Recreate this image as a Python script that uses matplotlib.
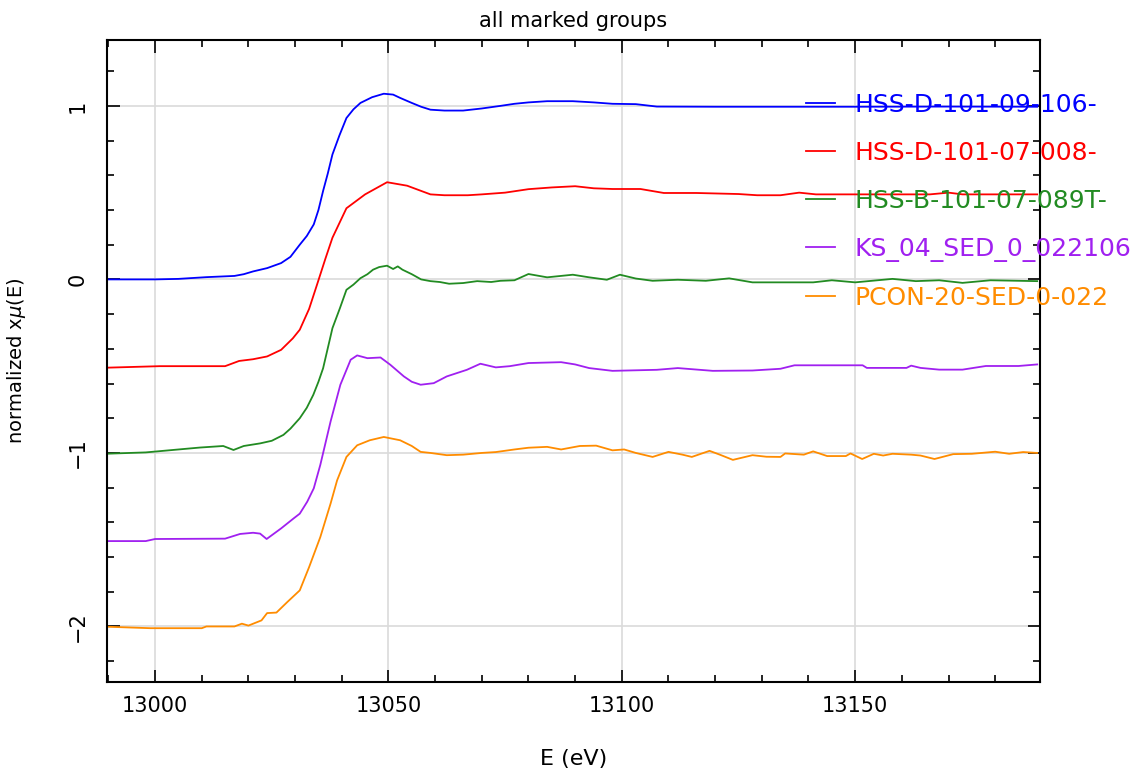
import matplotlib
matplotlib.use("Agg")
import matplotlib.pyplot as plt
from matplotlib.ticker import MultipleLocator

# normalized mu(E), one series per marked group
labels = ["HSS-D-101-09-106-", "HSS-D-101-07-008-", "HSS-B-101-07-089T-",
          "KS_04_SED_0_022106", "PCON-20-SED-0-022"]
offsets = [0.0, -0.5, -1.0, -1.5, -2.0]
colors = ["#0000ff", "#ff0000", "#228b22", "#a020f0", "#ff8c00"]

e_hss106 = [12988, 13000, 13005, 13011, 13017, 13019, 13021, 13024, 13027, 13029, 13031,
            13032.5, 13034, 13035, 13036, 13037, 13038, 13039.5, 13041, 13042.5, 13044,
            13046.5, 13049, 13051, 13052.5, 13055, 13057, 13059, 13062, 13066, 13070,
            13074, 13077, 13080, 13084, 13089.5, 13094, 13098, 13103, 13107.5, 13120,
            13134, 13150, 13170, 13189]
mu_hss106 = [0.0, 0.0, 0.003, 0.013, 0.02, 0.03, 0.046, 0.065, 0.094, 0.13, 0.2,
             0.25, 0.317, 0.4, 0.51, 0.61, 0.72, 0.83, 0.93, 0.98, 1.017,
             1.05, 1.07, 1.065, 1.046, 1.017, 0.995, 0.978, 0.973, 0.973, 0.985,
             1.0, 1.012, 1.02, 1.027, 1.027, 1.02, 1.012, 1.01, 0.996, 0.995,
             0.995, 0.995, 0.996, 0.995]

e_hss008 = [12988, 13001, 13015, 13018, 13021, 13024, 13027, 13029.5, 13031, 13033,
            13034.7, 13036.5, 13038, 13041, 13045, 13049.7, 13054, 13059, 13062, 13067,
            13070, 13075, 13080, 13085, 13090, 13094, 13098, 13104, 13109, 13116,
            13125, 13129, 13134, 13138, 13141.6, 13148, 13160, 13166, 13170, 13173,
            13180, 13189]
mu_hss008 = [-0.01, 0.0, 0.0, 0.03, 0.04, 0.056, 0.094, 0.16, 0.21, 0.33,
             0.47, 0.62, 0.74, 0.91, 0.99, 1.06, 1.04, 0.99, 0.985, 0.985,
             0.99, 1.0, 1.02, 1.03, 1.037, 1.025, 1.021, 1.021, 0.998, 0.998,
             0.992, 0.985, 0.985, 1.0, 0.99, 0.99, 0.99, 0.99, 1.0, 0.99,
             0.99, 0.99]

e_hss089 = [12988, 12998, 13009.6, 13014.6, 13016.8, 13019, 13022.5, 13025, 13027.5,
            13029, 13031, 13032.5, 13033.9, 13035, 13036, 13037.5, 13038, 13039.6,
            13041, 13042.5, 13044, 13045.5, 13046.7, 13048, 13049.7, 13051, 13052,
            13053, 13055, 13057, 13059, 13061, 13063, 13066, 13069, 13072, 13074,
            13077, 13080, 13084, 13089.5, 13093, 13096.8, 13099.6, 13103, 13106.6,
            13112, 13118, 13123, 13128, 13134, 13141, 13145, 13150, 13158, 13163,
            13168, 13173, 13179, 13189]
mu_hss089 = [-0.006, 0.003, 0.031, 0.04, 0.017, 0.04, 0.055, 0.07, 0.104,
             0.14, 0.2, 0.26, 0.335, 0.41, 0.488, 0.661, 0.719, 0.834,
             0.94, 0.97, 1.007, 1.03, 1.056, 1.071, 1.079, 1.06, 1.075,
             1.056, 1.03, 1.0, 0.99, 0.985, 0.975, 0.979, 0.99, 0.985, 0.992,
             0.995, 1.031, 1.012, 1.027, 1.012, 0.998, 1.027, 1.005, 0.992,
             0.998, 0.992, 1.006, 0.983, 0.983, 0.983, 0.995, 0.983, 1.003, 0.99,
             0.995, 0.98, 0.995, 0.99]

e_ks04 = [12988, 12998, 13000, 13015, 13018.2, 13021, 13022.5, 13023.9, 13027, 13029.7,
          13031, 13032.6, 13034, 13035.4, 13037.6, 13039.7, 13041.9, 13043.3, 13045.5,
          13048.3, 13050.4, 13053.3, 13055, 13056.9, 13059.7, 13062.5, 13066.8, 13069.7,
          13073, 13076, 13080, 13087, 13090, 13093, 13098, 13107.5, 13112, 13119.5,
          13128, 13134, 13137, 13151.6, 13152.5, 13161, 13162, 13164, 13168, 13173,
          13178, 13185, 13189]
mu_ks04 = [-0.008, -0.008, 0.004, 0.006, 0.033, 0.04, 0.035, 0.004, 0.065, 0.123,
           0.15, 0.219, 0.296, 0.431, 0.681, 0.893, 1.037, 1.062, 1.046,
           1.05, 1.008, 0.941, 0.91, 0.893, 0.902, 0.941, 0.979, 1.014,
           0.993, 1.0, 1.018, 1.023, 1.01, 0.989, 0.973, 0.979, 0.989, 0.973,
           0.975, 0.985, 1.005, 1.005, 0.99, 0.99, 1.003, 0.99, 0.98, 0.98,
           1.001, 1.001, 1.01]

e_pcon = [12988, 12999, 13010, 13011, 13017, 13018.6, 13020, 13022.8, 13024, 13026,
          13028.3, 13031, 13033, 13035.4, 13037.6, 13039, 13041, 13043.3, 13046, 13049,
          13052.5, 13055, 13056.9, 13059, 13062.5, 13066, 13070, 13073, 13077, 13080,
          13084, 13087, 13091, 13094.5, 13098, 13100.5, 13103, 13106.6, 13110, 13113,
          13115, 13118.8, 13121, 13123.8, 13128, 13131, 13134, 13135, 13139, 13141,
          13144, 13148, 13149, 13151.5, 13154, 13156, 13158, 13162, 13164, 13167,
          13171, 13175, 13180, 13183, 13186, 13189]
mu_pcon = [0.0, -0.01, -0.01, 0.0, 0.0, 0.016, 0.005, 0.035, 0.077, 0.08,
           0.14, 0.208, 0.342, 0.515, 0.708, 0.842, 0.977, 1.044, 1.073, 1.092,
           1.073, 1.04, 1.006, 1.0, 0.987, 0.99, 1.0, 1.005, 1.02, 1.03,
           1.035, 1.02, 1.04, 1.042, 1.015, 1.02, 1.0, 0.977, 1.006, 0.99,
           0.977, 1.012, 0.99, 0.96, 0.987, 0.978, 0.977, 0.997, 0.99, 1.009,
           0.982, 0.982, 0.997, 0.965, 0.995, 0.985, 0.995, 0.99, 0.985, 0.965,
           0.993, 0.995, 1.007, 0.995, 1.005, 1.0]

energies = [e_hss106, e_hss008, e_hss089, e_ks04, e_pcon]
spectra = [mu_hss106, mu_hss008, mu_hss089, mu_ks04, mu_pcon]

fig = plt.figure(figsize=(11.47, 7.68), dpi=100)
ax = fig.add_axes([0.0933, 0.112, 0.8134, 0.836])

for e, mu, off, c, lab in zip(energies, spectra, offsets, colors, labels):
    ax.plot(e, [m + off for m in mu], color=c, lw=1.3, label=lab)

ax.set_xlim(12989.7, 13189.6)
ax.set_ylim(-2.32, 1.38)
ax.xaxis.set_major_locator(MultipleLocator(50))
ax.xaxis.set_minor_locator(MultipleLocator(10))
ax.yaxis.set_major_locator(MultipleLocator(1))
ax.yaxis.set_minor_locator(MultipleLocator(0.2))
ax.grid(True, which="major", color="#dadada", lw=1.2)
ax.set_axisbelow(True)

ax.tick_params(which="both", direction="in", top=True, right=True, width=1.2, colors="black")
ax.tick_params(which="major", length=9)
ax.tick_params(which="minor", length=5)
ax.tick_params(axis="x", pad=10, labelsize=15)
ax.tick_params(axis="y", pad=14, labelsize=15, labelrotation=90)
for lbl in ax.get_yticklabels():
    lbl.set_va("center")
for sp in ax.spines.values():
    sp.set_linewidth(1.5)

ax.set_title("all marked groups", fontsize=15, pad=9)
ax.set_xlabel("E (eV)", fontsize=16)
ax.xaxis.set_label_coords(0.5, -0.105)
ax.set_ylabel("normalized x$\\mu$(E)", fontsize=14)
ax.yaxis.set_label_coords(-0.085, 0.5)

leg = ax.legend(loc="upper left", bbox_to_anchor=(0.749, 0.918), frameon=False,
                borderpad=0, borderaxespad=0, handlelength=1.16, handletextpad=0.8,
                labelspacing=0.96, fontsize=18, labelcolor="linecolor")
leg.set_clip_on(False)
for line in leg.get_lines():
    line.set_linewidth(1.3)

fig.savefig("out.png", dpi=100)
